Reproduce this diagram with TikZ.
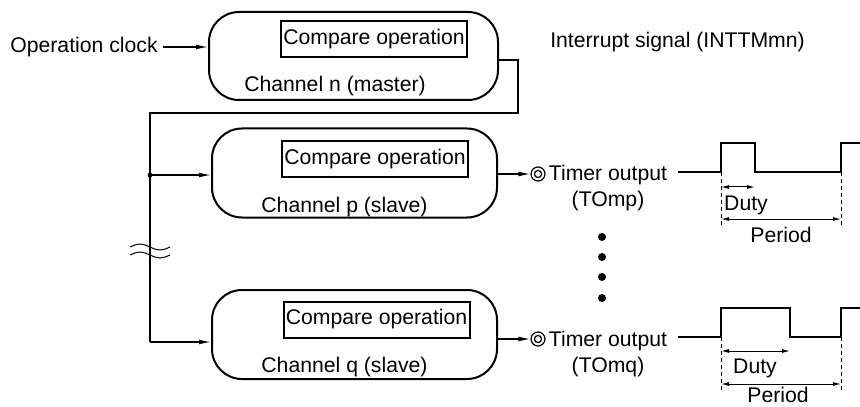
\documentclass[tikz,border=0pt]{standalone}
\usepackage{fontspec}
\setmainfont{Liberation Sans}
\usetikzlibrary{arrows.meta,positioning}
\tikzset{chan/.style={draw,line width=1pt,rounded corners=15pt,inner sep=0pt,minimum width=142.5pt,minimum height=44.5pt},
cmp/.style={draw,line width=1pt,inner sep=0pt,minimum width=93pt,minimum height=18pt},
lbl/.style={inner sep=0pt},
arr/.style={-{Latex[length=6pt,width=2.4pt]},line width=0.6pt},
dim/.style={{Latex[length=4pt,width=2pt]}-{Latex[length=4pt,width=2pt]},line width=0.5pt},
guide/.style={dashed,dash pattern=on 2pt off 1.5pt,line width=0.5pt},
wave/.style={line width=1pt},
term/.style={circle,draw,line width=0.6pt,minimum size=7pt,inner sep=0pt}}
\begin{document}
\begin{tikzpicture}[x=0.5pt,y=-0.5pt,font=\fontsize{10.6}{13}\selectfont]
\useasboundingbox (0,0) rectangle (860,406);
\node[chan,minimum width=144.5pt,minimum height=44pt] (n) at (353.5,56) {};
\node[cmp] (cn) at (374,39.5) {Compare operation};
\node[lbl] (ln) at (335,86) {Channel n (master)};
\node[chan] (p) at (354.5,173) {};
\node[cmp] (cp) at (375,159.5) {Compare operation};
\node[lbl] (lp) at (344.5,207) {Channel p (slave)};
\node[chan] (q) at (354.5,334.5) {};
\node[cmp] (cq) at (376.5,319.5) {Compare operation};
\node[lbl] (lq) at (344.5,367) {Channel q (slave)};
\node[lbl,outer sep=2.5pt] (clk) at (84,47) {Operation clock};
\draw[arr] (clk.east) -- (clk.east -| n.west);
\node[lbl] (irq) at (677.5,42) {Interrupt signal (INTTMmn)};
\coordinate (ir) at (518,60);
\coordinate (bus) at (150,113);
\coordinate (br) at (150,175);
\coordinate (qin) at (150,342);
\draw[line width=0.6pt] (n.east |- ir) -- (ir) |- (bus) -- (qin);
\draw[arr] (qin) -- (qin -| q.west);
\draw[arr] (br) -- (br -| p.west);
\fill (br) circle (1.2pt);
\foreach \y in {247,255}
  \draw[line width=0.5pt] (130,\y) sin (140,\y-3) cos (150,\y) sin (160,\y+3) cos (170,\y);
\node[term] (tp) at (538,174) {};
\draw[line width=0.6pt] (tp) circle (1.8pt);
\draw[arr] (p.east |- tp) -- (tp.west);
\node[lbl,align=center] (op) at (608,188) {Timer output\\(TOmp)};
\node[term] (tq) at (538,339) {};
\draw[line width=0.6pt] (tq) circle (1.8pt);
\draw[arr] (q.east |- tq) -- (tq.west);
\node[lbl,align=center] (oq) at (608,354) {Timer output\\(TOmq)};
\foreach \y in {237,257,277,298}
  \fill (602,\y) circle (2pt);
\draw[wave] (678,172) -- (721,172) -- (721,143) -- (755,143) -- (755,172) -- (841,172) -- (841,143) -- (862,143);
\draw[guide] (721,172) -- (721,228);
\draw[guide] (841,172) -- (841,228);
\draw[dim] (721,187) -- (755,187);
\draw[dim] (721,219) -- (841,219);
\node[lbl] (dp) at (746,205) {Duty};
\node[lbl] (pp) at (781,235) {Period};
\draw[wave] (678,337) -- (721,337) -- (721,308) -- (790,308) -- (790,337) -- (841,337) -- (841,308) -- (862,308);
\draw[guide] (721,337) -- (721,393);
\draw[guide] (841,337) -- (841,393);
\draw[dim] (721,351) -- (790,351);
\draw[dim] (721,384) -- (841,384);
\node[lbl] (dq) at (755,368) {Duty};
\node[lbl] (pq) at (778,395) {Period};
\end{tikzpicture}
\end{document}
